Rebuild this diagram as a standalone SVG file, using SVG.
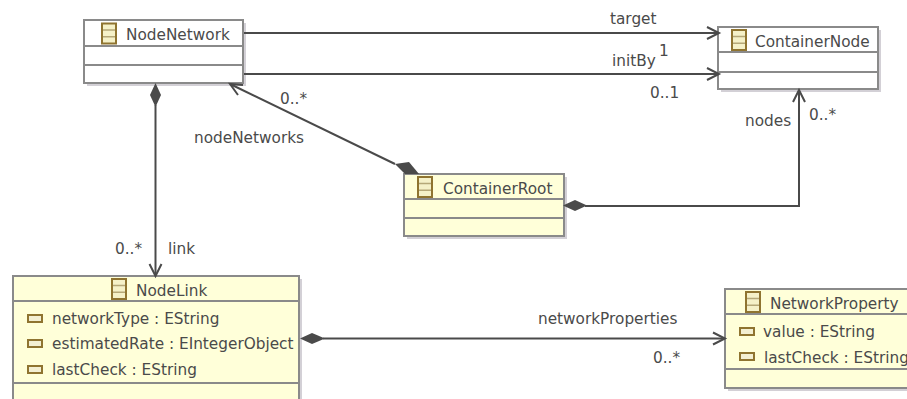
<svg xmlns="http://www.w3.org/2000/svg" width="907" height="399" viewBox="0 0 907 399">
<style>
text{font-family:"DejaVu Sans",Verdana,sans-serif;font-size:15.3px;fill:#4a4a4a}
.box{stroke:#8a8a8a;stroke-width:2}
.w{fill:#fff}.y{fill:#ffffd9}
.sh{fill:#d3d0d6}
.div{stroke:#8a8a8a;stroke-width:2;fill:none}
.c{fill:none;stroke:#4a4a4a;stroke-width:2}
.o{fill:none;stroke:#4a4a4a;stroke-width:2}
.d{fill:#4a4a4a;stroke:none}
.ci{fill:#f5f1c8;stroke:#8f7430;stroke-width:2}
.ai{fill:#f3efd2;stroke:#8f7430;stroke-width:2}
</style>
<defs>
<g id="ci"><rect class="ci" x="0" y="0" width="14" height="20"/><path d="M1 6.600H13M1 13.300H13" stroke="#b5a878" stroke-width="1.500"/></g>
<rect id="ai" class="ai" x="0" y="0" width="14" height="7"/>
</defs>
<g id="NodeNetwork"><rect class="sh" x="87" y="23" width="159" height="63"/><rect class="box w" x="84" y="20" width="159" height="63"/><path class="div" d="M84 46H243M84 65H243"/><use href="#ci" x="102" y="23.500"/><text x="126" y="40">NodeNetwork</text></g>
<g id="ContainerNode"><rect class="sh" x="721" y="30" width="160" height="62"/><rect class="box w" x="718" y="27" width="160" height="62"/><path class="div" d="M718 52H878M718 72H878"/><use href="#ci" x="732" y="30"/><text x="755" y="46.500">ContainerNode</text></g>
<g id="ContainerRoot"><rect class="sh" x="407" y="177" width="160" height="62"/><rect class="box y" x="404" y="174" width="160" height="62"/><path class="div" d="M404 199H564M404 218H564"/><use href="#ci" x="418" y="177"/><text x="443" y="193.500">ContainerRoot</text></g>
<g id="NodeLink"><rect class="sh" x="16" y="279" width="286" height="130"/><rect class="box y" x="13" y="276" width="286" height="130"/><path class="div" d="M13 301H299M13 383H299"/><use href="#ci" x="112" y="279"/><text x="136" y="295.500">NodeLink</text>
<use href="#ai" x="28" y="315"/><text x="52" y="323.500">networkType : EString</text>
<use href="#ai" x="28" y="340"/><text x="52" y="349">estimatedRate : EIntegerObject</text>
<use href="#ai" x="28" y="366"/><text x="52" y="374.500">lastCheck : EString</text></g>
<g id="NetworkProperty"><rect class="sh" x="728" y="292" width="190" height="99"/><rect class="box y" x="725" y="289" width="190" height="99"/><path class="div" d="M725 314H915M725 369H915"/><use href="#ci" x="746" y="292"/><text x="770" y="308.500">NetworkProperty</text>
<use href="#ai" x="740" y="328"/><text x="763" y="336.500">value : EString</text>
<use href="#ai" x="740" y="353"/><text x="764" y="362.500">lastCheck : EString</text></g>
<g id="connectors">
<path class="c" d="M244 33H718"/><path class="o" d="M707 27L719 33L707 39"/>
<path class="c" d="M244 74H718"/><path class="o" d="M707 68L719 74L707 80"/>
<path class="c" d="M395 164L230 84"/><path class="o" d="M243 85L230 84L238 95"/>
<path class="d" d="M395 164L409 162L419 174L405 174Z"/>
<path class="c" d="M155.500 105V275"/><path class="o" d="M149.500 264L155.500 276L161.500 264"/>
<path class="d" d="M155.500 83L161 95L155.500 107L150 95Z"/>
<path class="c" d="M585 206H799V90"/><path class="o" d="M793 102L799 90L805 102"/>
<path class="d" d="M563 205.500L575 200L587 205.500L575 211Z"/>
<path class="c" d="M323 338.500H724"/><path class="o" d="M713 332.500L725 338.500L713 344.500"/>
<path class="d" d="M300 338.500L312 333L325 338.500L312 344Z"/>
</g>
<g id="labels">
<text x="610" y="24">target</text><text x="659" y="56">1</text><text x="612" y="66">initBy</text><text x="650" y="98">0..1</text>
<text x="280" y="104">0..*</text><text x="194" y="143">nodeNetworks</text>
<text x="745" y="126">nodes</text><text x="809" y="120">0..*</text>
<text x="115" y="254">0..*</text><text x="168" y="254">link</text>
<text x="538" y="324">networkProperties</text><text x="653" y="363">0..*</text>
</g>
</svg>
